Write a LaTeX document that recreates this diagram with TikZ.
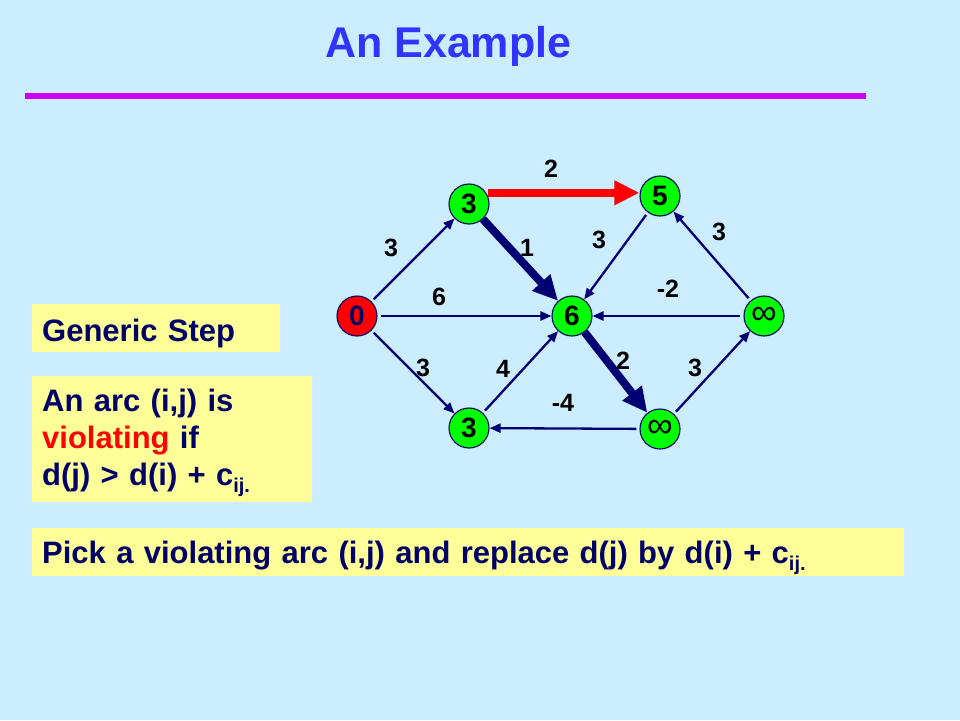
\documentclass[tikz,border=0pt]{standalone}
\usepackage{fontspec}
\setmainfont{Liberation Sans}
\usetikzlibrary{arrows.meta}
\definecolor{bg}{RGB}{204,236,255}
\definecolor{titleblue}{RGB}{51,51,255}
\definecolor{rulecol}{RGB}{204,0,255}
\definecolor{navy}{RGB}{0,0,102}
\definecolor{arcblue}{RGB}{0,0,115}
\definecolor{boxyellow}{RGB}{255,255,153}
\definecolor{nodegreen}{RGB}{0,255,0}
\definecolor{violred}{RGB}{255,0,0}
\newcommand{\costsub}{\raisebox{-7pt}{\fontsize{20}{24}\selectfont ij.}}
\newcommand{\infsym}{\raisebox{-3pt}{\fontsize{36}{36}\selectfont\mdseries ∞}}

\begin{document}
\begin{tikzpicture}[line cap=butt,line join=round,x=1pt,y=-1pt,
    vertex/.style={circle,draw=navy,line width=1.1pt,fill=nodegreen,minimum size=40pt,inner sep=0pt,font=\fontsize{28}{30}\selectfont\bfseries},
    cost/.style={inner sep=0pt,font=\fontsize{25}{28}\selectfont\bfseries},
    arc/.style={-{Triangle[length=11pt,width=9pt]},line width=2.3pt,draw=arcblue,shorten <=3pt},
    tree/.style={-{Triangle[length=25pt,width=23pt]},line width=8pt,draw=arcblue},
    pick/.style={-{Triangle[length=25pt,width=23pt]},line width=8pt,draw=violred,shorten <=2pt},
    textbox/.style={fill=boxyellow,anchor=north west,inner xsep=10pt,inner ysep=0pt,align=left,text=navy,font=\fontsize{31}{36.7}\selectfont\bfseries}]

    \useasboundingbox (0,0) rectangle (960,720);
    \fill[bg] (0,0) rectangle (960,720);
    %\draw [step=40pt,gray] (0,0) grid (960,720);

    \node[anchor=base west,inner sep=0pt,text=titleblue,font=\fontsize{43}{50}\selectfont\bfseries] (title) at (325,57) {An Example};
    \draw[rulecol,line width=6pt] (25,96) -- (866,96);

    \node[textbox,text width=228pt,text height=37.7pt,text depth=10.3pt] (generic) at (32,304) {Generic Step};
    \node[textbox,text width=260pt,text height=35.7pt,text depth=90.3pt] (violating) at (32,376)
        {An arc (i,j) is\\ \textcolor{violred}{violating} if\\ d(j) > d(i) + c\costsub};
    \node[textbox,text width=852pt,text height=35pt,text depth=13pt] (rule) at (32,528)
        {Pick a violating arc (i,j) and replace d(j) by d(i) + c\costsub};

    \node[vertex,fill=violred,text=navy] (s) at (357,316) {0};
    \node[vertex] (a) at (469,204) {3};
    \node[vertex] (b) at (660,196) {5};
    \node[vertex] (c) at (572,316) {6};
    \node[vertex] (d) at (469,428) {3};
    \node[vertex] (e) at (660,429) {\infsym};
    \node[vertex] (f) at (764,316) {\infsym};

    \draw[arc] (s) -- (a);
    \draw[arc] (s) -- (c);
    \draw[arc] (s) -- (d);
    \draw[tree] (a) -- (c);
    \draw[pick] (a.33) -- (a.33 -| b.west);
    \draw[arc] (b) -- (c);
    \draw[arc] (f) -- (b);
    \draw[arc] (f) -- (c);
    \draw[tree] (c) -- (e);
    \draw[arc] (d) -- (c);
    \draw[arc] (e) -- (d);
    \draw[arc] (e) -- (f);

    \node[cost] (wab) at (551,169) {2};
    \node[cost] (wsa) at (391,248) {3};
    \node[cost] (wac) at (527,248) {1};
    \node[cost] (wbc) at (599,240) {3};
    \node[cost] (wfb) at (719,232) {3};
    \node[cost] (wsc) at (439,297) {6};
    \node[cost] (wfc) at (668,289) {-2};
    \node[cost] (wsd) at (423,368) {3};
    \node[cost] (wdc) at (503,369) {4};
    \node[cost] (wce) at (623,361) {2};
    \node[cost] (wef) at (695,368) {3};
    \node[cost] (wed) at (563,403) {-4};
\end{tikzpicture}
\end{document}
